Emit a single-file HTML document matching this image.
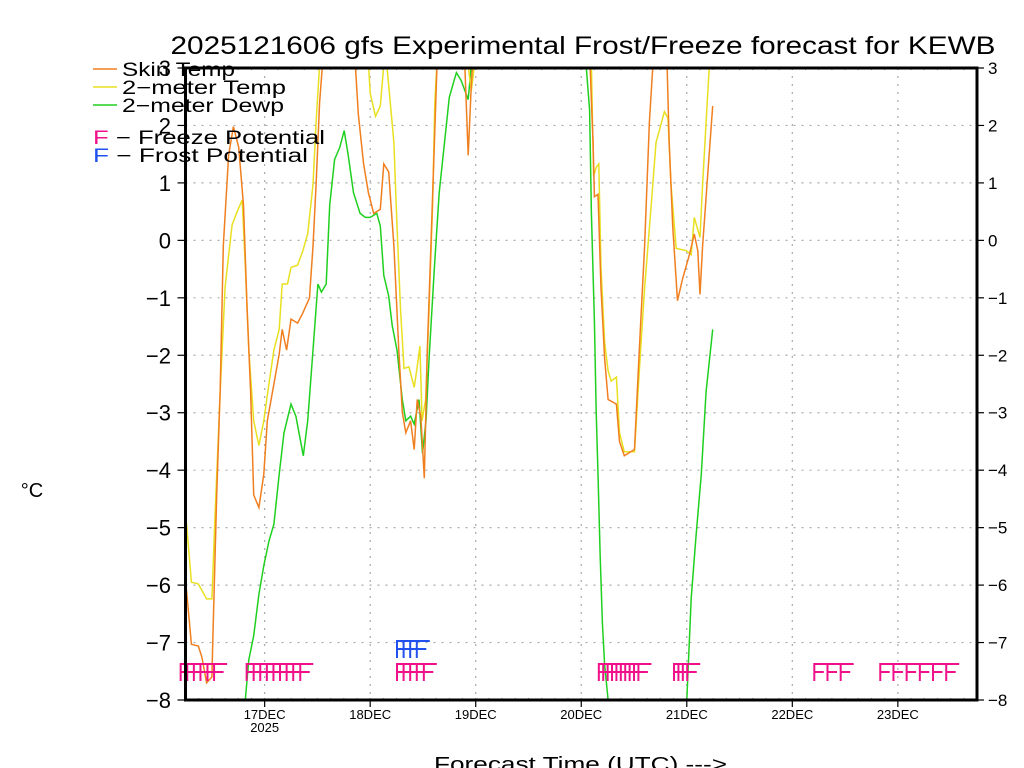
<!DOCTYPE html>
<html><head><meta charset="utf-8"><style>
html,body{margin:0;padding:0;background:#fff;}
svg{display:block;font-family:"Liberation Sans",sans-serif;}
</style></head><body>
<svg id="chart" width="1024" height="768" viewBox="0 0 1024 768">
<defs><clipPath id="plotclip"><rect x="185.5" y="68" width="791.5" height="632"/></clipPath></defs>
<text x="583" y="54" text-anchor="middle" font-size="25" textLength="825" lengthAdjust="spacingAndGlyphs">2025121606 gfs Experimental Frost/Freeze forecast for KEWB</text>
<g id="grid"></g>
<g id="series" clip-path="url(#plotclip)"></g>
<g id="markers"></g>
<g id="axes"></g>
<g font-size="19">
 <line x1="93" y1="69" x2="117" y2="69" stroke="#f07f20" stroke-width="1.5"/>
 <text x="122" y="76" textLength="113" lengthAdjust="spacingAndGlyphs">Skin Temp</text>
 <line x1="93" y1="87" x2="117" y2="87" stroke="#e8e020" stroke-width="1.5"/>
 <text x="122" y="94" textLength="164" lengthAdjust="spacingAndGlyphs">2−meter Temp</text>
 <line x1="93" y1="105" x2="117" y2="105" stroke="#20d020" stroke-width="1.5"/>
 <text x="122" y="112" textLength="162" lengthAdjust="spacingAndGlyphs">2−meter Dewp</text>
 <text x="93" y="144" textLength="232" lengthAdjust="spacingAndGlyphs"><tspan fill="#f0108a">F</tspan>  −  Freeze Potential</text>
 <text x="93" y="162" textLength="215" lengthAdjust="spacingAndGlyphs"><tspan fill="#2050f0">F</tspan>  −  Frost Potential</text>
</g>
<text x="32" y="497" text-anchor="middle" font-size="20">°C</text>
<text x="434" y="771" font-size="20" textLength="293" lengthAdjust="spacingAndGlyphs">Forecast Time (UTC) ---&gt;</text>
</svg>
<script>
const skinHours=[0,1.35,2.9,3.7,4.8,6,6.3,7.1,7.9,8.6,9.8,10.9,12.1,13.2,14,14.8,15.5,16.7,17.8,18.6,20.1,21.3,22,23,24,25.5,26.7,28.2,29,29.7,30.5,31.3,35,38.6,39.3,40.5,41.6,42.8,44.3,45.1,46.2,47.4,48.5,49.3,50.1,51.2,52,52.7,53.5,54.3,55,55.8,56.6,57.2,60,63.5,64.3,65,66,80,91.8,92.3,92.7,93,93.8,94.5,95.3,96.1,98,98.7,99.8,102.1,103.2,104.4,105.5,106.3,108,109.5,110,110.8,111.9,113,114.6,115.7,116.5,117,117.6,118.8,119.9];
const skinTemp=[-5.9,-7.03,-7.06,-7.25,-7.7,-7.6,-6.7,-4.43,-2.6,-0.1,1.48,1.98,1.62,0.61,-1.19,-2.63,-4.43,-4.65,-4.07,-3.14,-2.5,-1.98,-1.55,-1.91,-1.37,-1.44,-1.26,-1.0,-0.1,0.97,2.4,3.2,4,3.1,2.2,1.33,0.83,0.47,0.54,1.33,1.19,-0.1,-1.91,-2.99,-3.35,-3.14,-3.64,-2.77,-3.06,-4.14,-1.91,-0.1,1.7,3.05,4,3.1,1.48,2.7,4,4,3.5,2.42,1.7,0.76,0.8,-0.83,-2.05,-2.77,-2.85,-3.5,-3.75,-3.64,-1.91,-0.1,2.06,3.05,4,3.1,1.7,0.25,-1.05,-0.68,-0.25,0.11,-0.18,-0.94,-0.1,1.19,2.34];
const airHours=[0,1.35,2.9,4.8,6,6.7,7.9,9,10.6,11.7,12.9,13.6,14.4,15.5,16.7,17.8,19,20.1,21.3,22,23.2,24,25.5,26.7,27.8,29,29.7,30.5,35,41.6,42,43.2,44.3,45.1,45.7,46.2,47.4,48.1,48.9,49.7,50.8,52,52.7,53.3,53.8,54.6,55.4,56.2,56.7,57.2,61,64.2,65,65.8,80,92.3,92.8,93.4,94,94.5,95.3,96.1,96.8,98,98.7,99.8,102.1,103.2,104.4,105.9,107,108.9,109.7,110.4,111.6,113.9,115,115.7,117,117.6,118.4,119.1,119.9];
const airTemp=[-4.72,-5.95,-5.98,-6.24,-6.24,-4.8,-2.63,-0.81,0.27,0.49,0.7,-0.45,-1.91,-3.14,-3.57,-3.14,-2.49,-1.91,-1.55,-0.76,-0.76,-0.47,-0.43,-0.18,0.11,0.97,2.06,3.05,4,3.1,2.56,2.16,2.34,3.05,3.1,2.7,1.7,0.25,-1.19,-2.23,-2.2,-2.56,-2.2,-1.84,-3.14,-2.77,-1.19,0.61,2.4,3.1,4,3.1,2.6,3.1,4,3.05,1.12,1.27,1.33,-0.47,-1.77,-2.27,-2.45,-2.38,-3.35,-3.68,-3.68,-2.27,-0.83,0.61,1.7,2.24,2.13,0.97,-0.14,-0.18,-0.25,0.4,0.05,0.97,2.06,3.0,3.4];
const dewHours=[0,13.6,14.4,15.5,16.7,17.8,19,20.1,21.3,22.4,24,25.1,26.8,27.8,29,30.1,30.9,32,32.8,33.9,35.1,36.1,37,38.2,39.7,40.9,42,43.5,44.3,45.1,46.2,47,48.1,49.3,50.1,51.2,52,53.1,53.9,54.7,55.4,56.6,57.7,58.9,60,61.6,62.7,64.3,65,66,80,91.1,91.9,92.3,93,93.4,93.8,94.3,94.8,95.3,96.1,97,113,114,115,116.1,117.3,118.4,119.9];
const dewPoint=[-8.5,-8.0,-7.3,-6.88,-6.16,-5.66,-5.23,-4.94,-4.07,-3.35,-2.85,-3.06,-3.75,-3.14,-1.91,-0.76,-0.9,-0.76,0.61,1.41,1.62,1.91,1.48,0.83,0.47,0.4,0.4,0.47,0.25,-0.61,-0.97,-1.48,-1.91,-2.77,-3.14,-3.06,-3.2,-2.77,-3.71,-3.14,-2.05,-0.47,0.83,1.7,2.49,2.92,2.78,2.45,3.05,4,4,3.05,2.27,0.47,-1.4,-2.99,-4.07,-5.51,-6.66,-7.38,-8.0,-8.6,-8.6,-8.0,-6.23,-5.15,-4.07,-2.63,-1.55];
const freezeHours=[-1.1,0.4,1.9,3.4,5.0,6.5,13.9,15.5,17.0,18.5,20.0,21.5,23.0,24.5,26.1,48.1,49.6,51.1,52.6,54.2,94,95,96,97,98,99,100,101,102,103,111.1,112.1,113.1,114.1,143,146,149,158,161,164,167,170,173];
const frostHours=[48.1,49.6,51.1,52.6];
const dayLabels=["17DEC","18DEC","19DEC","20DEC","21DEC","22DEC","23DEC"];
const dayHours=[18,42,66,90,114,138,162];
const yTicks=[3,2,1,0,-1,-2,-3,-4,-5,-6,-7,-8];

const NS="http://www.w3.org/2000/svg";
const X0=185.5,X1=977,Y0=68,Y1=700,HMAX=180,VMIN=-8,VMAX=3;
function xs(h){return X0+h*(X1-X0)/HMAX;}
function ys(v){return Y0+(VMAX-v)*(Y1-Y0)/(VMAX-VMIN);}
function mk(tag,attrs,parent){const e=document.createElementNS(NS,tag);for(const k in attrs)e.setAttribute(k,attrs[k]);parent.appendChild(e);return e;}
const grid=document.getElementById('grid'),axes=document.getElementById('axes'),ser=document.getElementById('series'),mkG=document.getElementById('markers');

yTicks.forEach(v=>{
  const y=ys(v);
  if(v>VMIN&&v<VMAX){const g=mk('line',{x1:X0,y1:y,x2:X1,y2:y,stroke:'#aaa','stroke-width':1.2,'stroke-dasharray':'2,6'},grid);
  
  }
  const t1=mk('line',{x1:X0-8,y1:y,x2:X0,y2:y,stroke:'#000','stroke-width':1.2},axes);
  
  
  const t2=mk('line',{x1:X1,y1:y,x2:X1+7,y2:y,stroke:'#000','stroke-width':1.2},axes);
  
  
  const lab=(v<0?'−':'')+Math.abs(v);
  const l1=mk('text',{x:171,y:y+8,'text-anchor':'end','font-size':22},axes);l1.textContent=lab;
  
  
  const l2=mk('text',{x:988,y:y+6,'font-size':17},axes);l2.textContent=lab;
  
  
});
dayHours.forEach((h,i)=>{
  const x=xs(h);
  const g=mk('line',{x1:x,y1:Y0,x2:x,y2:Y1,stroke:'#aaa','stroke-width':1.2,'stroke-dasharray':'2,6'},grid);
  
  
  const t=mk('line',{x1:x,y1:Y1,x2:x,y2:Y1+7,stroke:'#000','stroke-width':1.2},axes);
  
  
  const l=mk('text',{x:x,y:719,'text-anchor':'middle','font-size':13},axes);l.textContent=dayLabels[i];
  
  
});
const yr=mk('text',{x:xs(18),y:732,'text-anchor':'middle','font-size':13},axes);yr.textContent='2025';


for(let h=3;h<HMAX;h+=3){const x=xs(h);
  const a=mk('line',{x1:x,y1:Y1,x2:x,y2:Y1-2,stroke:'#888','stroke-width':1},axes);
  
  
  const b=mk('line',{x1:x,y1:Y0,x2:x,y2:Y0+2,stroke:'#888','stroke-width':1},axes);
  
  }
const frame=mk('rect',{x:X0,y:Y0,width:X1-X0,height:Y1-Y0,fill:'none',stroke:'#000','stroke-width':3},axes);



function drawLine(hs,vs,color,name){
  const d=hs.map((h,i)=>(i?'L':'M')+xs(h).toFixed(1)+','+ys(vs[i]).toFixed(1)).join('');
  const p=mk('path',{d:d,fill:'none',stroke:color,'stroke-width':1.5},ser);
  
  
}
drawLine(dewHours,dewPoint,'#20d020','dewpoint-line');
drawLine(airHours,airTemp,'#e8e020','air-temp-line');
drawLine(skinHours,skinTemp,'#f07f20','skin-temp-line');

function drawF(h,top,color,name){
  const x=xs(h),h2=17;
  const g=mk('g',{stroke:color,'stroke-width':2,fill:'none'},mkG);
  
  
  mk('path',{d:`M${x},${top+h2}V${top}H${x+13}M${x},${top+8}H${x+9.5}`},g);
}
freezeHours.forEach(h=>drawF(h,664,'#f0108a','freeze-marker'));
frostHours.forEach(h=>drawF(h,641,'#2050f0','frost-marker'));
</script>
</body></html>
